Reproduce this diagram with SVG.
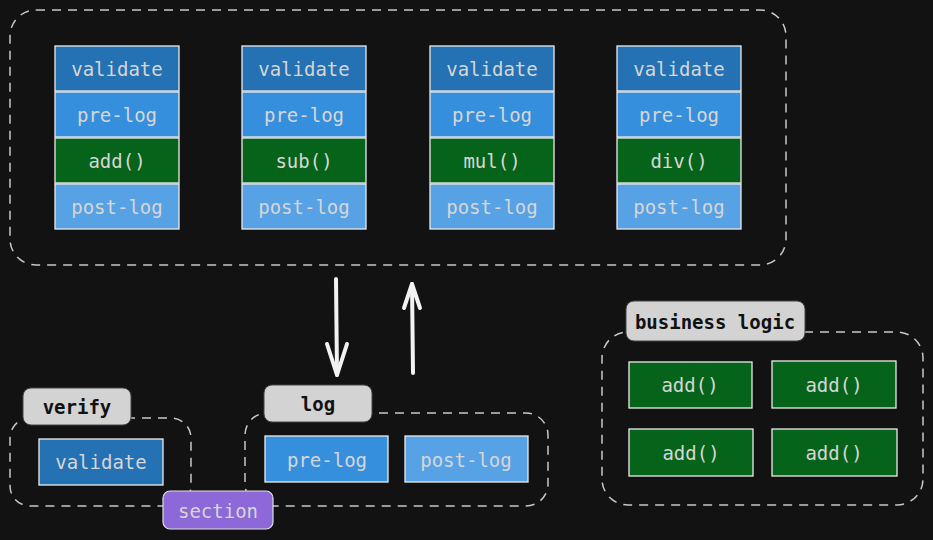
<svg xmlns="http://www.w3.org/2000/svg" width="933" height="540" viewBox="0 0 933 540">
  <style>
    .bg { fill: #121212; }
    .frame { fill: none; stroke: #c8c8c8; stroke-width: 1.5; stroke-dasharray: 9 7; }
    .box { stroke: #ececec; stroke-width: 1.3; }
    .val { fill: #2471b3; }
    .pre { fill: #368fdd; }
    .post { fill: #56a2e5; }
    .fn { fill: #06631a; }
    .tag { fill: #d3d3d3; stroke: #444; stroke-width: 1; }
    .sec { fill: #8c68d9; stroke: #e0e0e0; stroke-width: 1.2; }
    .t { font-family: "DejaVu Sans Mono", "Liberation Mono", monospace; font-size: 19px; fill: #d6d6d6; text-anchor: middle; dominant-baseline: central; }
    .tb { font-family: "DejaVu Sans Mono", "Liberation Mono", monospace; font-size: 19px; font-weight: bold; fill: #111; text-anchor: middle; dominant-baseline: central; }
    .arrow { fill: none; stroke: #f2f2f2; stroke-width: 4; stroke-linecap: round; stroke-linejoin: round; }
  </style>
  <rect class="bg" x="0" y="0" width="933" height="540"/>

  <!-- pipeline overview -->
  <g id="pipelines">
    <rect class="frame" x="10" y="10" width="776" height="255" rx="26"/>
  </g>

  <g id="stack-add">
    <rect class="box val" x="55" y="46" width="124" height="45"/>
    <text class="t" x="117" y="69">validate</text>
    <rect class="box pre" x="55" y="92" width="124" height="45"/>
    <text class="t" x="117" y="115">pre-log</text>
    <rect class="box fn" x="55" y="138" width="124" height="45"/>
    <text class="t" x="117" y="161">add()</text>
    <rect class="box post" x="55" y="184" width="124" height="45"/>
    <text class="t" x="117" y="207">post-log</text>
  </g>

  <g id="stack-sub">
    <rect class="box val" x="242" y="46" width="124" height="45"/>
    <text class="t" x="304" y="69">validate</text>
    <rect class="box pre" x="242" y="92" width="124" height="45"/>
    <text class="t" x="304" y="115">pre-log</text>
    <rect class="box fn" x="242" y="138" width="124" height="45"/>
    <text class="t" x="304" y="161">sub()</text>
    <rect class="box post" x="242" y="184" width="124" height="45"/>
    <text class="t" x="304" y="207">post-log</text>
  </g>

  <g id="stack-mul">
    <rect class="box val" x="430" y="46" width="124" height="45"/>
    <text class="t" x="492" y="69">validate</text>
    <rect class="box pre" x="430" y="92" width="124" height="45"/>
    <text class="t" x="492" y="115">pre-log</text>
    <rect class="box fn" x="430" y="138" width="124" height="45"/>
    <text class="t" x="492" y="161">mul()</text>
    <rect class="box post" x="430" y="184" width="124" height="45"/>
    <text class="t" x="492" y="207">post-log</text>
  </g>

  <g id="stack-div">
    <rect class="box val" x="617" y="46" width="124" height="45"/>
    <text class="t" x="679" y="69">validate</text>
    <rect class="box pre" x="617" y="92" width="124" height="45"/>
    <text class="t" x="679" y="115">pre-log</text>
    <rect class="box fn" x="617" y="138" width="124" height="45"/>
    <text class="t" x="679" y="161">div()</text>
    <rect class="box post" x="617" y="184" width="124" height="45"/>
    <text class="t" x="679" y="207">post-log</text>
  </g>

  <!-- split / merge arrows -->
  <g id="connectors">
    <path class="arrow" d="M336 279 L337 375"/>
    <path class="arrow" d="M327 344 L337 375 L347 344"/>
    <path class="arrow" d="M413 373 L412 284"/>
    <path class="arrow" d="M404 308 L412 284 L420 308"/>
  </g>

  <!-- verify section -->
  <g id="verify">
    <rect class="frame" x="10" y="418" width="181" height="88" rx="20"/>
    <rect class="tag" x="23" y="388" width="108" height="37" rx="8"/>
    <text class="tb" x="77" y="407">verify</text>
    <rect class="box val" x="39" y="439" width="124" height="46"/>
    <text class="t" x="101" y="462">validate</text>
  </g>

  <!-- log section -->
  <g id="log">
    <rect class="frame" x="245" y="413" width="303" height="93" rx="22"/>
    <rect class="tag" x="264" y="385" width="108" height="37" rx="8"/>
    <text class="tb" x="318" y="404">log</text>
    <rect class="box pre" x="265" y="436" width="123" height="46"/>
    <text class="t" x="327" y="460">pre-log</text>
    <rect class="box post" x="405" y="436" width="123" height="46"/>
    <text class="t" x="466" y="460">post-log</text>
  </g>

  <g id="section">
    <rect class="sec" x="163" y="491" width="110" height="38" rx="7"/>
    <text class="t" x="218" y="511">section</text>
  </g>

  <!-- business logic section -->
  <g id="business-logic">
    <rect class="frame" x="602" y="332" width="321" height="173" rx="26"/>
    <rect class="tag" x="626" y="301" width="179" height="40" rx="8"/>
    <text class="tb" x="715" y="322">business logic</text>
    <rect class="box fn" x="629" y="362" width="123" height="46"/>
    <text class="t" x="690" y="385">add()</text>
    <rect class="box fn" x="772" y="361" width="124" height="47"/>
    <text class="t" x="834" y="385">add()</text>
    <rect class="box fn" x="629" y="429" width="124" height="47"/>
    <text class="t" x="691" y="453">add()</text>
    <rect class="box fn" x="772" y="429" width="125" height="47"/>
    <text class="t" x="834" y="453">add()</text>
  </g>
</svg>
